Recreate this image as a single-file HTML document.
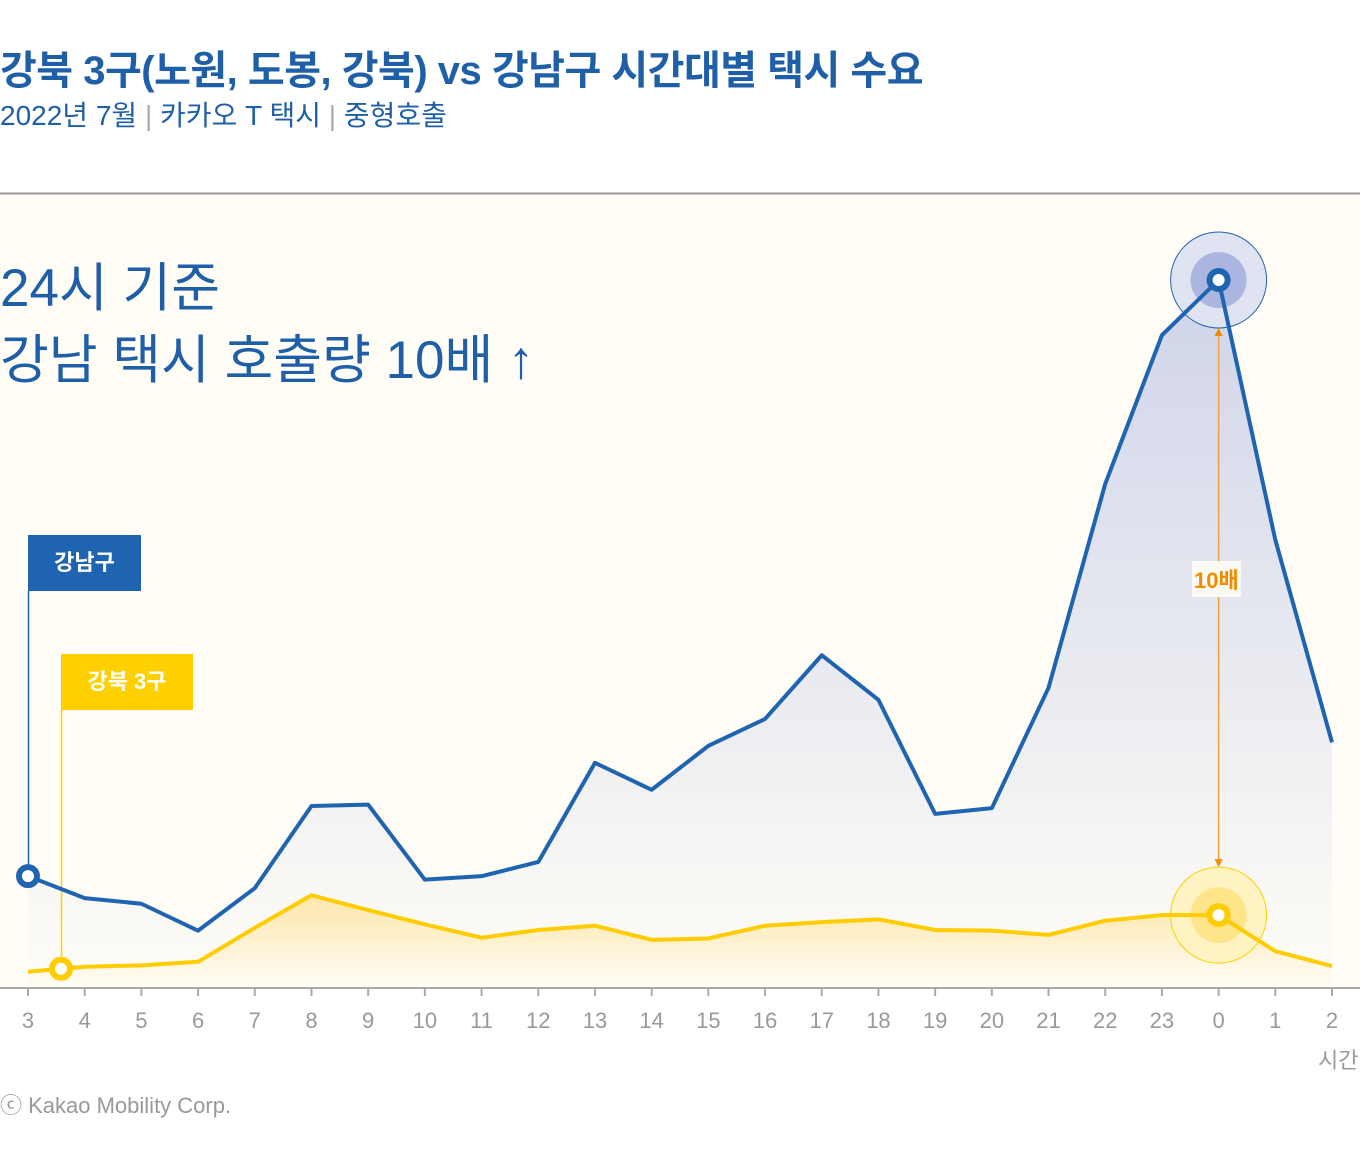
<!DOCTYPE html>
<html><head><meta charset="utf-8">
<style>
body{margin:0;width:1360px;height:1156px;background:#fff;font-family:"Liberation Sans","Noto Sans CJK KR",sans-serif;overflow:hidden;position:relative}
.t{position:absolute;white-space:nowrap}
</style></head><body>
<div class="t" style="left:0;top:38px;font-size:40px;font-weight:bold;color:#1f5fa8;letter-spacing:-0.5px">강북 3구(노원, 도봉, 강북) vs 강남구 시간대별 택시 수요</div>
<div class="t" style="left:0;top:94px;font-size:28px;color:#1f5fa8">2022년 7월 <span style="color:#aaa">|</span> 카카오 T 택시 <span style="color:#aaa">|</span> 중형호출</div>
<svg id="chart" width="1360" height="1156" style="position:absolute;left:0;top:0">
<defs>
<linearGradient id="gb" x1="0" y1="0" x2="0" y2="1"><stop offset="0" stop-color="#c9cfe8" stop-opacity="0.9"/><stop offset="1" stop-color="#c9cfe8" stop-opacity="0"/></linearGradient>
<linearGradient id="gy" x1="0" y1="0" x2="0" y2="1"><stop offset="0" stop-color="#ffe08a" stop-opacity="0.7"/><stop offset="1" stop-color="#ffe08a" stop-opacity="0"/></linearGradient>
</defs>
<rect x="0" y="194" width="1360" height="794" fill="#fffdf6"/>
<line x1="0" y1="193.5" x2="1360" y2="193.5" stroke="#999" stroke-width="2"/>
<g id="marks"></g>
</svg>
<div class="t" style="left:0;top:246px;font-size:53px;color:#1f5fa8">24시 기준</div>
<div class="t" style="left:0;top:318px;font-size:53px;color:#1f5fa8">강남 택시 호출량 10배 ↑</div>
<div class="t" style="left:28px;top:535px;width:113px;height:56px;background:#1f64b0;color:#fff;font-size:22px;font-weight:bold;line-height:56px;text-align:center">강남구</div>
<div class="t" style="left:61px;top:654px;width:132px;height:56px;background:#ffd000;color:#fff;font-size:22px;font-weight:bold;line-height:56px;text-align:center">강북 3구</div>
<div class="t" style="left:1192px;top:561px;font-size:22px;font-weight:bold;color:#f08c00;background:#fbf9f4;padding:2px 2px">10배</div>
<div class="t" style="left:1318px;top:1043px;font-size:22px;color:#999">시간</div>
<div class="t" style="left:0;top:1088px;font-size:22px;color:#999">ⓒ Kakao Mobility Corp.</div>
<script>
const hours=["3","4","5","6","7","8","9","10","11","12","13","14","15","16","17","18","19","20","21","22","23","0","1","2"];
const gangnam=[15.8,12.7,11.9,8.1,14.1,25.7,25.9,15.3,15.8,17.8,31.8,28,34.2,38.0,47.0,40.7,24.6,25.4,42.4,71.2,92.2,100,63.3,34.7];
const gangbuk=[2.3,3.0,3.2,3.7,8.5,13.1,11.0,9.0,7.1,8.2,8.8,6.8,7.0,8.8,9.3,9.7,8.2,8.1,7.5,9.5,10.3,10.3,5.2,3.1];
const NS="http://www.w3.org/2000/svg";
const g=document.getElementById('marks');
const X=i=>28+i*(1332-28)/(hours.length-1);
const Y=v=>988-v*7.08;
function mk(t,a){const e=document.createElementNS(NS,t);for(const k in a)e.setAttribute(k,a[k]);g.appendChild(e);return e;}
function pts(arr){return arr.map((v,i)=>X(i)+','+Y(v)).join(' ');}
const last=hours.length-1;
let e;
e=mk('polygon',{points:X(0)+',988 '+pts(gangnam)+' '+X(last)+',988',fill:'url(#gb)'});


e=mk('polygon',{points:X(0)+',988 '+pts(gangbuk)+' '+X(last)+',988',fill:'url(#gy)'});


e=mk('line',{x1:0,y1:988,x2:1360,y2:988,stroke:'#aaa','stroke-width':2});


hours.forEach((h,i)=>{
 let t=mk('line',{x1:X(i),y1:988,x2:X(i),y2:996,stroke:'#aaa','stroke-width':2});
 
 
 let l=mk('text',{x:X(i),y:1028,'text-anchor':'middle','font-size':22,fill:'#999','font-family':'Liberation Sans, sans-serif'});
 l.textContent=h;
 
 
});
const pk=21;
e=mk('circle',{cx:X(pk),cy:Y(gangnam[pk]),r:48,fill:'#dfe3f2',stroke:'#1f64b0','stroke-width':1});


mk('circle',{cx:X(pk),cy:Y(gangnam[pk]),r:28,fill:'#aab6e0'});
e=mk('circle',{cx:X(pk),cy:Y(gangbuk[pk]),r:48,fill:'#fff3c4',stroke:'#ffd000','stroke-width':1});


mk('circle',{cx:X(pk),cy:Y(gangbuk[pk]),r:28,fill:'#ffe58a'});
e=mk('line',{x1:X(pk),y1:Y(gangnam[pk])+52,x2:X(pk),y2:Y(gangbuk[pk])-52,stroke:'#f5a040','stroke-width':1.5});


mk('polygon',{points:`${X(pk)},${Y(gangnam[pk])+48} ${X(pk)-4},${Y(gangnam[pk])+56} ${X(pk)+4},${Y(gangnam[pk])+56}`,fill:'#f08c00'});
mk('polygon',{points:`${X(pk)},${Y(gangbuk[pk])-48} ${X(pk)-4},${Y(gangbuk[pk])-56} ${X(pk)+4},${Y(gangbuk[pk])-56}`,fill:'#f08c00'});
e=mk('line',{x1:28.5,y1:591,x2:28.5,y2:Y(gangnam[0]),stroke:'#1f64b0','stroke-width':1.5});


const yv=gangbuk[0]+(gangbuk[1]-gangbuk[0])*0.6;
e=mk('line',{x1:61.5,y1:710,x2:61.5,y2:Y(yv),stroke:'#ffd000','stroke-width':1.5});


e=mk('polyline',{points:pts(gangnam),fill:'none',stroke:'#1f64b0','stroke-width':4,'stroke-linejoin':'round'});


e=mk('polyline',{points:pts(gangbuk),fill:'none',stroke:'#ffcc00','stroke-width':4,'stroke-linejoin':'round'});


function dot(x,y,c,n){let d=mk('circle',{cx:x,cy:y,r:9,fill:'#fff',stroke:c,'stroke-width':6});}
dot(X(0),Y(gangnam[0]),'#1f64b0','gangnam-start-marker');
dot(61,Y(yv),'#ffcc00','gangbuk-start-marker');
dot(X(pk),Y(gangnam[pk]),'#1f64b0','gangnam-peak-marker');
dot(X(pk),Y(gangbuk[pk]),'#ffcc00','gangbuk-peak-marker');
</script>
</body></html>
